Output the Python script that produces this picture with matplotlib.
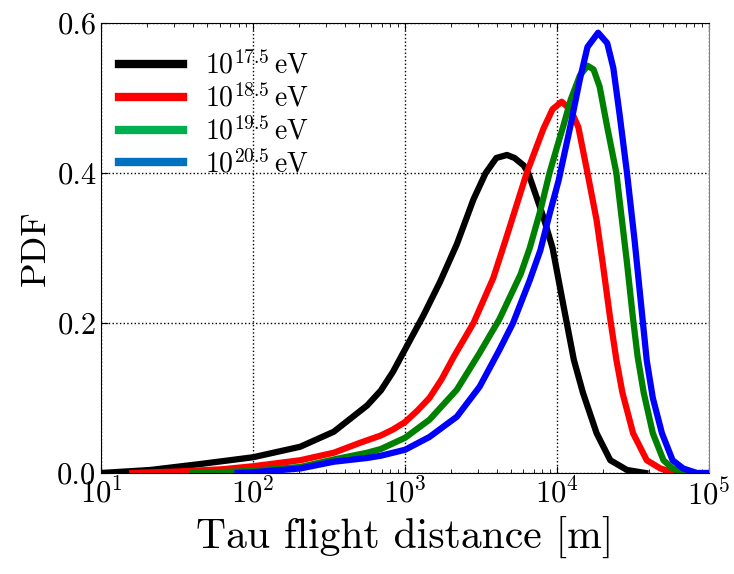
import matplotlib
matplotlib.use('Agg')
import matplotlib.pyplot as plt
from matplotlib.lines import Line2D
from matplotlib.ticker import FormatStrFormatter

plt.rcParams['font.family'] = 'serif'
plt.rcParams['font.serif'] = ['cmr10']
plt.rcParams['mathtext.fontset'] = 'cm'
plt.rcParams['axes.formatter.use_mathtext'] = True

# distances in metres, PDF values
dist_175 = [10, 21, 45, 100, 204, 339, 562, 692, 832, 1000, 1318, 1698, 2188, 2818, 3388,
            3981, 4677, 5248, 6026, 6457, 8128, 9333, 10965, 12882, 14791, 18197, 22387,
            28840, 38019]
pdf_175 = [0.0, 0.004, 0.012, 0.021, 0.035, 0.055, 0.09, 0.11, 0.135, 0.165, 0.21, 0.255,
           0.305, 0.365, 0.40, 0.42, 0.424, 0.42, 0.41, 0.40, 0.341, 0.30, 0.225, 0.151,
           0.107, 0.053, 0.017, 0.004, 0.0]

dist_185 = [16, 32, 63, 100, 204, 339, 501, 692, 832, 1000, 1202, 1445, 1738, 2089, 2818,
            3802, 4571, 5370, 6310, 8128, 9333, 10715, 12303, 13804, 15849, 18197, 19953,
            22387, 24547, 26915, 31623, 38905, 47863, 60256]
pdf_185 = [0.0, 0.002, 0.005, 0.009, 0.017, 0.027, 0.040, 0.050, 0.058, 0.068, 0.083, 0.10,
           0.125, 0.155, 0.20, 0.26, 0.31, 0.355, 0.40, 0.459, 0.485, 0.495, 0.484, 0.461,
           0.40, 0.337, 0.28, 0.205, 0.151, 0.107, 0.053, 0.017, 0.006, 0.0]

dist_195 = [40, 79, 100, 204, 339, 562, 692, 1000, 1445, 2188, 3090, 4169, 5754, 6607,
            7762, 8913, 10000, 10965, 12303, 14125, 15849, 17378, 19055, 21380, 24547,
            28840, 31623, 33884, 37154, 42658, 50119, 57544, 67608]
pdf_195 = [0.0, 0.002, 0.003, 0.008, 0.018, 0.027, 0.032, 0.047, 0.071, 0.111, 0.16, 0.205,
           0.265, 0.30, 0.35, 0.40, 0.435, 0.462, 0.498, 0.53, 0.543, 0.538, 0.515, 0.461,
           0.40, 0.28, 0.205, 0.155, 0.107, 0.053, 0.017, 0.006, 0.0]

dist_205 = [79, 100, 204, 339, 562, 692, 1000, 1445, 2188, 3090, 4169, 5129, 6607, 7762,
            8913, 10233, 12303, 14125, 15849, 18621, 21380, 23442, 25704, 28840, 32359,
            35481, 38905, 42658, 48978, 57544, 67608, 83176, 100000]
pdf_205 = [0.0, 0.001, 0.006, 0.015, 0.02, 0.023, 0.031, 0.048, 0.075, 0.115, 0.164, 0.20,
           0.257, 0.297, 0.345, 0.39, 0.465, 0.525, 0.568, 0.587, 0.573, 0.54, 0.48, 0.40,
           0.31, 0.23, 0.15, 0.10, 0.053, 0.017, 0.006, 0.0, 0.0]

labels = [r'$10^{17.5}\,\mathrm{eV}$', r'$10^{18.5}\,\mathrm{eV}$',
          r'$10^{19.5}\,\mathrm{eV}$', r'$10^{20.5}\,\mathrm{eV}$']
line_colors = ['black', 'red', '#008000', 'blue']
legend_colors = ['black', 'red', '#00b050', '#0070c0']

fig = plt.figure(figsize=(7.34, 5.74), dpi=100)
ax = fig.add_axes([0.138, 0.176, 0.828, 0.784])

series = [(dist_175, pdf_175), (dist_185, pdf_185), (dist_195, pdf_195), (dist_205, pdf_205)]
for (x, y), c in zip(series, line_colors):
    ax.plot(x, y, color=c, lw=4.5, solid_joinstyle='round')

ax.set_xscale('log')
ax.set_xlim(10, 1e5)
ax.set_ylim(0, 0.6)
ax.set_yticks([0.0, 0.2, 0.4, 0.6])
ax.yaxis.set_major_formatter(FormatStrFormatter('%.1f'))
ax.grid(True, which='major', linestyle=':', color='black', lw=1)
ax.tick_params(which='both', direction='in', top=True, right=False, labelsize=22)
ax.tick_params(which='major', length=5)
ax.tick_params(which='minor', length=3)
ax.spines['right'].set_color('#808080')

ax.set_xlabel('Tau flight distance [m]', fontsize=30)
ax.set_ylabel('PDF', fontsize=26)

handles = [Line2D([], [], color=c, lw=6) for c in legend_colors]
ax.legend(handles, labels, loc='upper left', frameon=False, fontsize=20,
          handlelength=2.3, labelspacing=0.15, borderaxespad=0.45,
          bbox_to_anchor=(-0.01, 0.99))

fig.savefig('out.png', dpi=100)
